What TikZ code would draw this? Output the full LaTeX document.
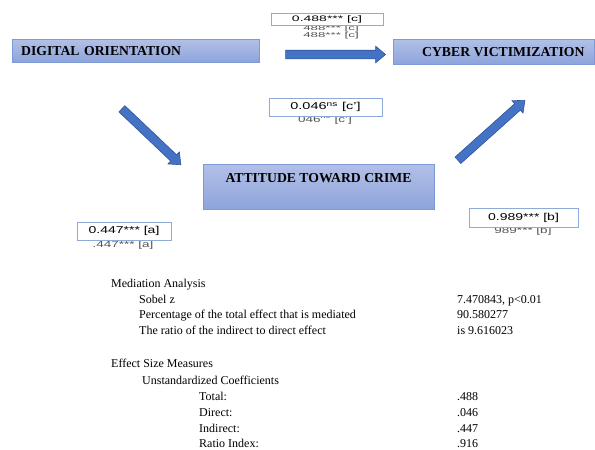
\documentclass[tikz,border=0pt]{standalone}
\usepackage{fontspec}
\setmainfont{Liberation Serif}
\setsansfont{Liberation Sans}
\usetikzlibrary{shapes.arrows,calc}
\definecolor{boxtop}{HTML}{B3C0E7}
\definecolor{boxbot}{HTML}{8DA4DB}
\definecolor{boxline}{HTML}{7E9AD6}
\definecolor{arrfill}{HTML}{4472C4}
\definecolor{arrline}{HTML}{2F5597}
\definecolor{lblline}{HTML}{8EAADB}
\newcommand{\wide}[2]{\scalebox{#1}[1]{#2}}
\tikzset{
  varbox/.style={draw=boxline, top color=boxtop, bottom color=boxbot, inner sep=0pt},
  vartext/.style={font=\fontsize{13.7}{15}\selectfont\bfseries},
  coefbox/.style={draw=lblline, fill=white, inner sep=0pt, font=\sffamily\fontsize{10}{11}\selectfont},
  ghost/.style={text=gray!65!black, inner sep=0pt, font=\sffamily\fontsize{9}{9}\selectfont},
  blockarrow/.style={single arrow, draw=arrline, fill=arrfill, line width=0.6pt, minimum width=16pt,
    single arrow head extend=4pt, single arrow tip angle=80, inner xsep=0pt, inner ysep=4pt},
  tab/.style={anchor=base west, inner sep=0pt, font=\fontsize{12}{14}\selectfont}
}
\begin{document}
\begin{tikzpicture}[x=1pt, y=-1pt]
    \useasboundingbox (0,0) rectangle (595,450);

    \node[varbox, vartext, anchor=north west, minimum height=23pt, text width=229pt, inner xsep=9pt, align=left] (digital) at (12,39) {DIGITAL ORIENTATION};
    \shade[varbox] (393,39) rectangle (594.5,64);
    \node[vartext, anchor=west, inner sep=0pt] (cyber) at (422,52) {CYBER VICTIMIZATION};
    \node[varbox, vartext, anchor=north, minimum width=231pt, text height=10pt, text depth=18pt, inner ysep=8.5pt] (crime) at (318.5,164) {ATTITUDE TOWARD CRIME};

    \coordinate (ta) at (120,107);
    \coordinate (ha) at (179,163);
    \coordinate (tb) at (283,54.5);
    \coordinate (hb) at (383,54.5);
    \coordinate (tc) at (456,162);
    \coordinate (hc) at (523,102);
    \foreach \s/\e in {ta/ha, tb/hb, tc/hc}
        \path let \p1=($(\e)-(\s)$), \n1={veclen(\x1,\y1)}, \n2={atan2(\y1,\x1)} in
            node[blockarrow, minimum height=\n1, rotate=\n2] (arr\s) at ($(\s)!0.5!(\e)$) {};

    \node[ghost, font=\sffamily\fontsize{7}{7}\selectfont] (cghost1) at (331,29) {\wide{1.9}{488*** [c]}};
    \node[ghost, font=\sffamily\fontsize{7}{7}\selectfont] (cghost2) at (331,35.5) {\wide{1.9}{488*** [c]}};
    \node[ghost] (cpghost) at (325,120) {\wide{1.5}{046\textsuperscript{ns} [c']}};
    \node[ghost] (aghost) at (123,245) {\wide{1.5}{.447*** [a]}};
    \node[ghost] (bghost) at (523,231) {\wide{1.5}{989*** [b]}};

    \node[coefbox, minimum width=112pt, minimum height=12pt, font=\sffamily\fontsize{8}{9}\selectfont] (cpath) at (327,19) {\wide{1.75}{0.488*** [c]}};
    \node[coefbox, minimum width=113pt, minimum height=18pt] (cppath) at (325.5,107) {\wide{1.45}{0.046\textsuperscript{ns} [c']}};
    \node[coefbox, minimum width=94pt, minimum height=18pt] (apath) at (124,231) {\wide{1.4}{0.447*** [a]}};
    \node[coefbox, minimum width=109pt, minimum height=19pt] (bpath) at (523.5,217.5) {\wide{1.4}{0.989*** [b]}};

    \node[tab] (medhead) at (111,287) {Mediation Analysis};
    \foreach \t/\v/\y [count=\i] in {Sobel z/{7.470843, p<0.01}/303,
        Percentage of the total effect that is mediated/90.580277/318.5,
        The ratio of the indirect to direct effect/is 9.616023/334} {
        \node[tab] (medname\i) at (139,\y) {\t};
        \node[tab] (medval\i) at (457,\y) {\v};
    }

    \node[tab] (effhead) at (111,367) {Effect Size Measures};
    \node[tab] (unstd) at (142,384) {Unstandardized Coefficients};
    \foreach \t/\v/\y [count=\i] in {Total:/.488/400, Direct:/.046/416, Indirect:/.447/432, Ratio Index:/.916/447} {
        \node[tab] (effname\i) at (199,\y) {\t};
        \node[tab] (effval\i) at (457,\y) {\v};
    }
\end{tikzpicture}
\end{document}
